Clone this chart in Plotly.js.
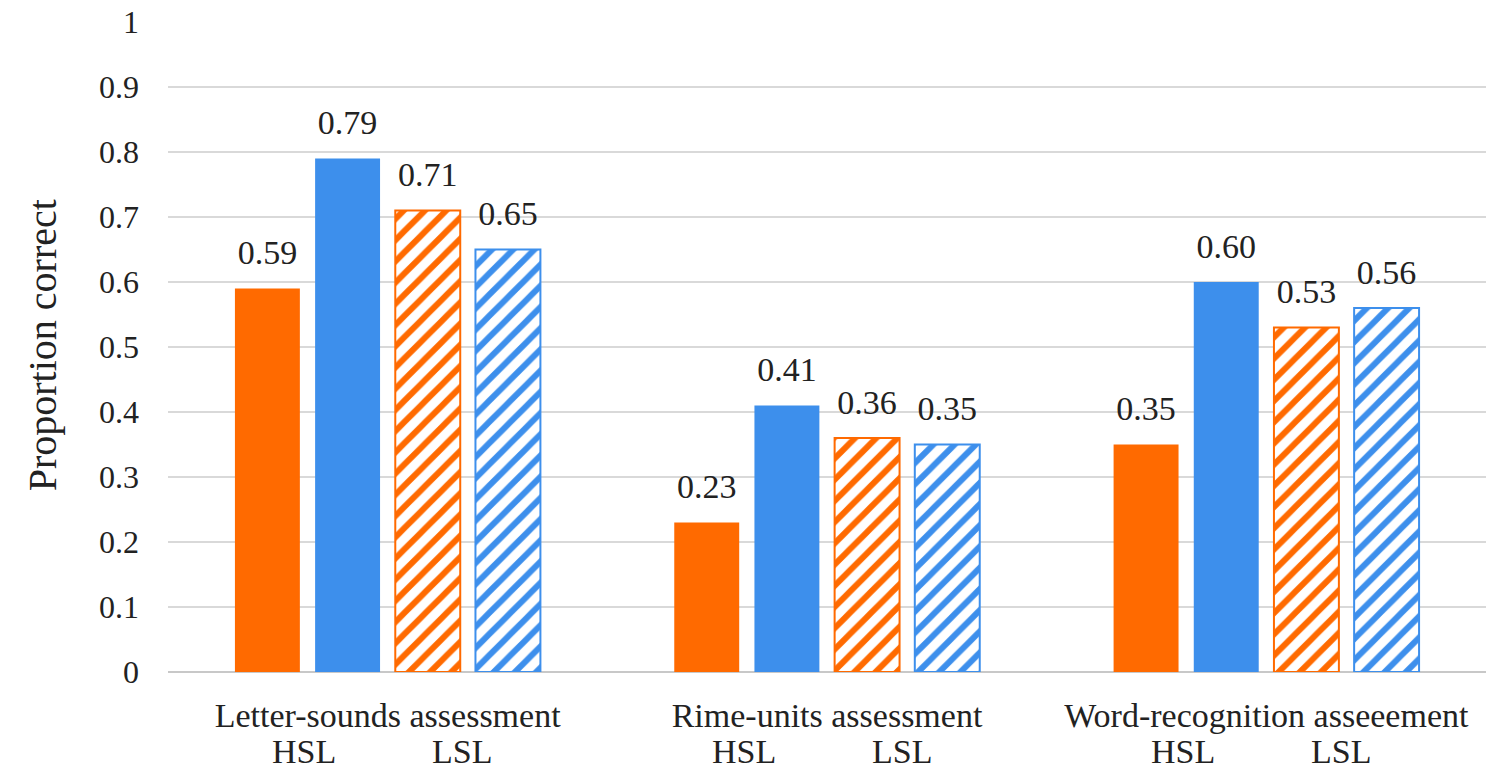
<!DOCTYPE html>
<html>
<head>
<meta charset="utf-8">
<script src="https://cdn.plot.ly/plotly-3.0.1.min.js"></script>
<style>
  html, body { margin: 0; padding: 0; background: #fff; }
  #chart { width: 1500px; height: 774px; }
</style>
</head>
<body>
<div id="chart"></div>
<script>
var categories = ['Letter-sounds assessment', 'Rime-units assessment', 'Word-recognition asseeement'];

var hslOrange = [0.59, 0.23, 0.35];
var hslBlue = [0.79, 0.41, 0.60];
var lslOrange = [0.71, 0.36, 0.53];
var lslBlue = [0.65, 0.35, 0.56];

var subLabels = ['HSL', 'LSL'];
var subOffsets = [-0.19, 0.17];

var orange = '#FF6A00';
var blue = '#3D8FEC';
var serif = '"Times New Roman", "Liberation Serif", Times, serif';

// the spacer line under each number pushes the label up off the bar
var labelTemplate = '<span style="font-size:34px">%{y:.2f}</span><br>\u00A0';

function barTrace(name, values, color, hatched) {
  var marker = { color: color, line: { color: color, width: hatched ? 2 : 0 } };
  if (hatched) {
    marker.color = 'white';
    marker.pattern = { shape: '/', fgcolor: color, bgcolor: 'white', size: 15, solidity: 0.4 };
  }
  return {
    type: 'bar',
    name: name,
    x: categories,
    y: values,
    marker: marker,
    texttemplate: labelTemplate,
    textposition: 'outside',
    textfont: { family: serif, size: 14, color: '#222' },
    cliponaxis: false,
    hoverinfo: 'skip'
  };
}

var data = [
  barTrace('HSL orange', hslOrange, orange, false),
  barTrace('HSL blue', hslBlue, blue, false),
  barTrace('LSL orange', lslOrange, orange, true),
  barTrace('LSL blue', lslBlue, blue, true)
];

var annotations = [];
categories.forEach(function (c, i) {
  subLabels.forEach(function (s, j) {
    annotations.push({
      x: i + subOffsets[j], xref: 'x',
      y: -0.123, yref: 'paper', yanchor: 'middle',
      text: s, showarrow: false,
      font: { family: serif, size: 34, color: '#222' }
    });
  });
});
annotations.push({
  x: -0.114, xref: 'paper', y: 0.503, yref: 'paper',
  text: 'Proportion correct', textangle: -90, showarrow: false,
  font: { family: serif, size: 40, color: '#222' }
});

var layout = {
  width: 1500,
  height: 774,
  showlegend: false,
  barmode: 'group',
  bargap: 0.27,
  bargroupgap: 0.19,
  paper_bgcolor: 'white',
  plot_bgcolor: 'white',
  margin: { l: 168, r: 14, t: 22, b: 102 },
  font: { family: serif, color: '#222' },
  xaxis: {
    type: 'category',
    showgrid: false,
    showline: false,
    ticks: '',
    ticklabelstandoff: 20,
    tickfont: { family: serif, size: 34, color: '#222' }
  },
  yaxis: {
    range: [0, 1],
    tick0: 0,
    dtick: 0.1,
    showgrid: true,
    gridcolor: '#D9D9D9',
    gridwidth: 1.5,
    zeroline: true,
    zerolinecolor: '#C8C8C8',
    zerolinewidth: 2,
    ticks: '',
    ticklabelstandoff: 28,
    tickfont: { family: serif, size: 32, color: '#222' }
  },
  annotations: annotations
};

var config = {
  displayModeBar: false,
  staticPlot: true
};

Plotly.newPlot('chart', data, layout, config);
</script>
</body>
</html>
